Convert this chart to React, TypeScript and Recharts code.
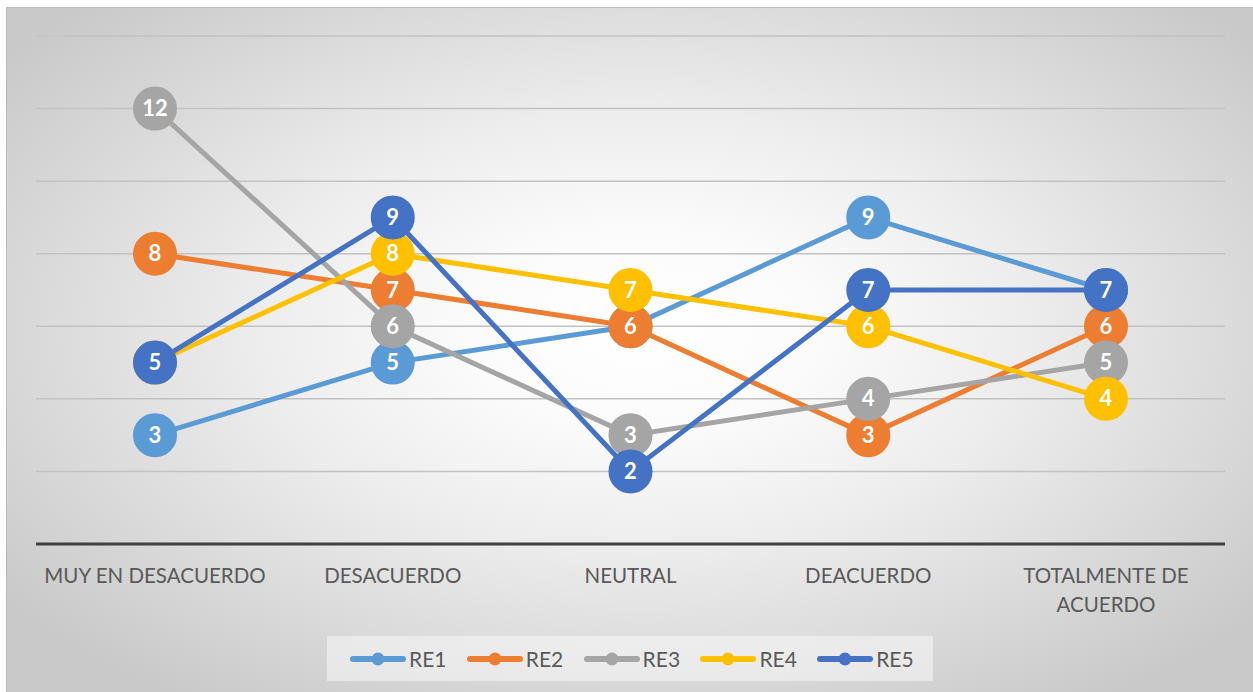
import { LineChart, Line, XAxis, YAxis, CartesianGrid, Legend } from 'recharts';

const categories = ['MUY EN DESACUERDO', 'DESACUERDO', 'NEUTRAL', 'DEACUERDO', 'TOTALMENTE DE ACUERDO'];
const re1 = [3, 5, 6, 9, 7];
const re2 = [8, 7, 6, 3, 6];
const re3 = [12, 6, 3, 4, 5];
const re4 = [5, 8, 7, 6, 4];
const re5 = [5, 9, 2, 7, 7];
const yTicks = [0, 2, 4, 6, 8, 10, 12, 14];

const series = [
    { key: 'RE1', values: re1, color: '#5B9BD5' },
    { key: 'RE2', values: re2, color: '#ED7D31' },
    { key: 'RE3', values: re3, color: '#A5A5A5' },
    { key: 'RE4', values: re4, color: '#FFC000' },
    { key: 'RE5', values: re5, color: '#4472C4' },
];

const data = categories.map((cat, i) => {
    const row: Record<string, string | number> = { cat };
    series.forEach(s => { row[s.key] = s.values[i]; });
    return row;
});

const FONT = 'Lato, "Open Sans", sans-serif';

// greedy word wrap, long category names go on two lines
function wrap(label: string, maxChars = 18) {
    const lines: string[] = [];
    let cur = '';
    label.split(' ').forEach(w => {
        const next = cur ? cur + ' ' + w : w;
        if (next.length > maxChars && cur) {
            lines.push(cur);
            cur = w;
        } else {
            cur = next;
        }
    });
    if (cur) lines.push(cur);
    return lines;
}

function CategoryTick(props: any) {
    const { x, payload } = props;
    const lines = wrap(String(payload.value));
    return (
        <text
            x={x}
            y={576}
            textAnchor="middle"
            fill="#595959"
            style={{ fontFamily: FONT, fontSize: 20.5 }}
        >
            {lines.map((l, i) => (
                <tspan key={i} x={x} dy={i === 0 ? 0 : 29}>{l}</tspan>
            ))}
        </text>
    );
}

function makeDot(color: string) {
    return (props: any) => {
        const { cx, cy, value, index } = props;
        if (cx == null || cy == null) return <g key={index} />;
        return (
            <g key={index}>
                <circle cx={cx} cy={cy} r={21} fill={color} stroke={color} strokeWidth={2} />
                <text
                    x={cx}
                    y={cy}
                    dy={7.5}
                    textAnchor="middle"
                    fill="#ffffff"
                    style={{ fontFamily: FONT, fontSize: 22, fontWeight: 700 }}
                >
                    {value}
                </text>
            </g>
        );
    };
}

function LegendBox() {
    return (
        <div
            style={{
                width: 606,
                height: 45,
                background: 'rgba(252,252,252,0.5)',
                display: 'flex',
                alignItems: 'center',
                paddingLeft: 22,
                boxSizing: 'border-box',
            }}
        >
            {series.map(s => (
                <div key={s.key} style={{ display: 'flex', alignItems: 'center', width: 118 }}>
                    <svg width={58} height={16}>
                        <line x1={4} y1={8} x2={54} y2={8} stroke={s.color} strokeWidth={6} strokeLinecap="round" />
                        <circle cx={29} cy={8} r={6.5} fill={s.color} />
                    </svg>
                    <span style={{ fontFamily: FONT, fontSize: 21, color: '#595959', marginLeft: 2 }}>{s.key}</span>
                </div>
            ))}
        </div>
    );
}

export default function App() {
    return (
        <div style={{ position: 'absolute', left: 0, top: 0, width: 1253, height: 692, background: '#ffffff', overflow: 'hidden' }}>
            <div
                style={{
                    position: 'absolute',
                    left: 6,
                    top: 7,
                    width: 1247,
                    height: 685,
                    boxShadow: 'inset 1px 1px 0 #bcbcbc',
                    background: 'radial-gradient(ellipse 64% 66% at 51% 47%, #ffffff 0%, #fbfbfb 22%, #ededed 48%, #d8d8d8 78%, #c9c9c9 100%)',
                }}
            >
                <LineChart width={1247} height={685} data={data} margin={{ top: 29, right: 28, bottom: 88, left: 30 }}>
                    <CartesianGrid vertical={false} stroke="#c2c2c2" strokeWidth={1.5} />
                    <YAxis hide domain={[0, 14]} ticks={yTicks} />
                    <XAxis
                        dataKey="cat"
                        height={60}
                        padding={{ left: 119, right: 119 }}
                        tickLine={false}
                        axisLine={{ stroke: '#404040', strokeWidth: 3 }}
                        tick={<CategoryTick />}
                        interval={0}
                    />
                    {series.map(s => (
                        <Line
                            key={s.key + '-line'}
                            dataKey={s.key}
                            stroke={s.color}
                            strokeWidth={5}
                            dot={false}
                            activeDot={false}
                            legendType="none"
                            isAnimationActive={false}
                        />
                    ))}
                    {series.map(s => (
                        <Line
                            key={s.key + '-dots'}
                            dataKey={s.key}
                            stroke="none"
                            dot={makeDot(s.color)}
                            activeDot={false}
                            legendType="none"
                            isAnimationActive={false}
                        />
                    ))}
                    <Legend
                        layout="horizontal"
                        verticalAlign="middle"
                        align="center"
                        wrapperStyle={{ position: 'absolute', left: 321, top: 629, width: 606 }}
                        content={() => <LegendBox />}
                    />
                </LineChart>
            </div>
        </div>
    );
}
